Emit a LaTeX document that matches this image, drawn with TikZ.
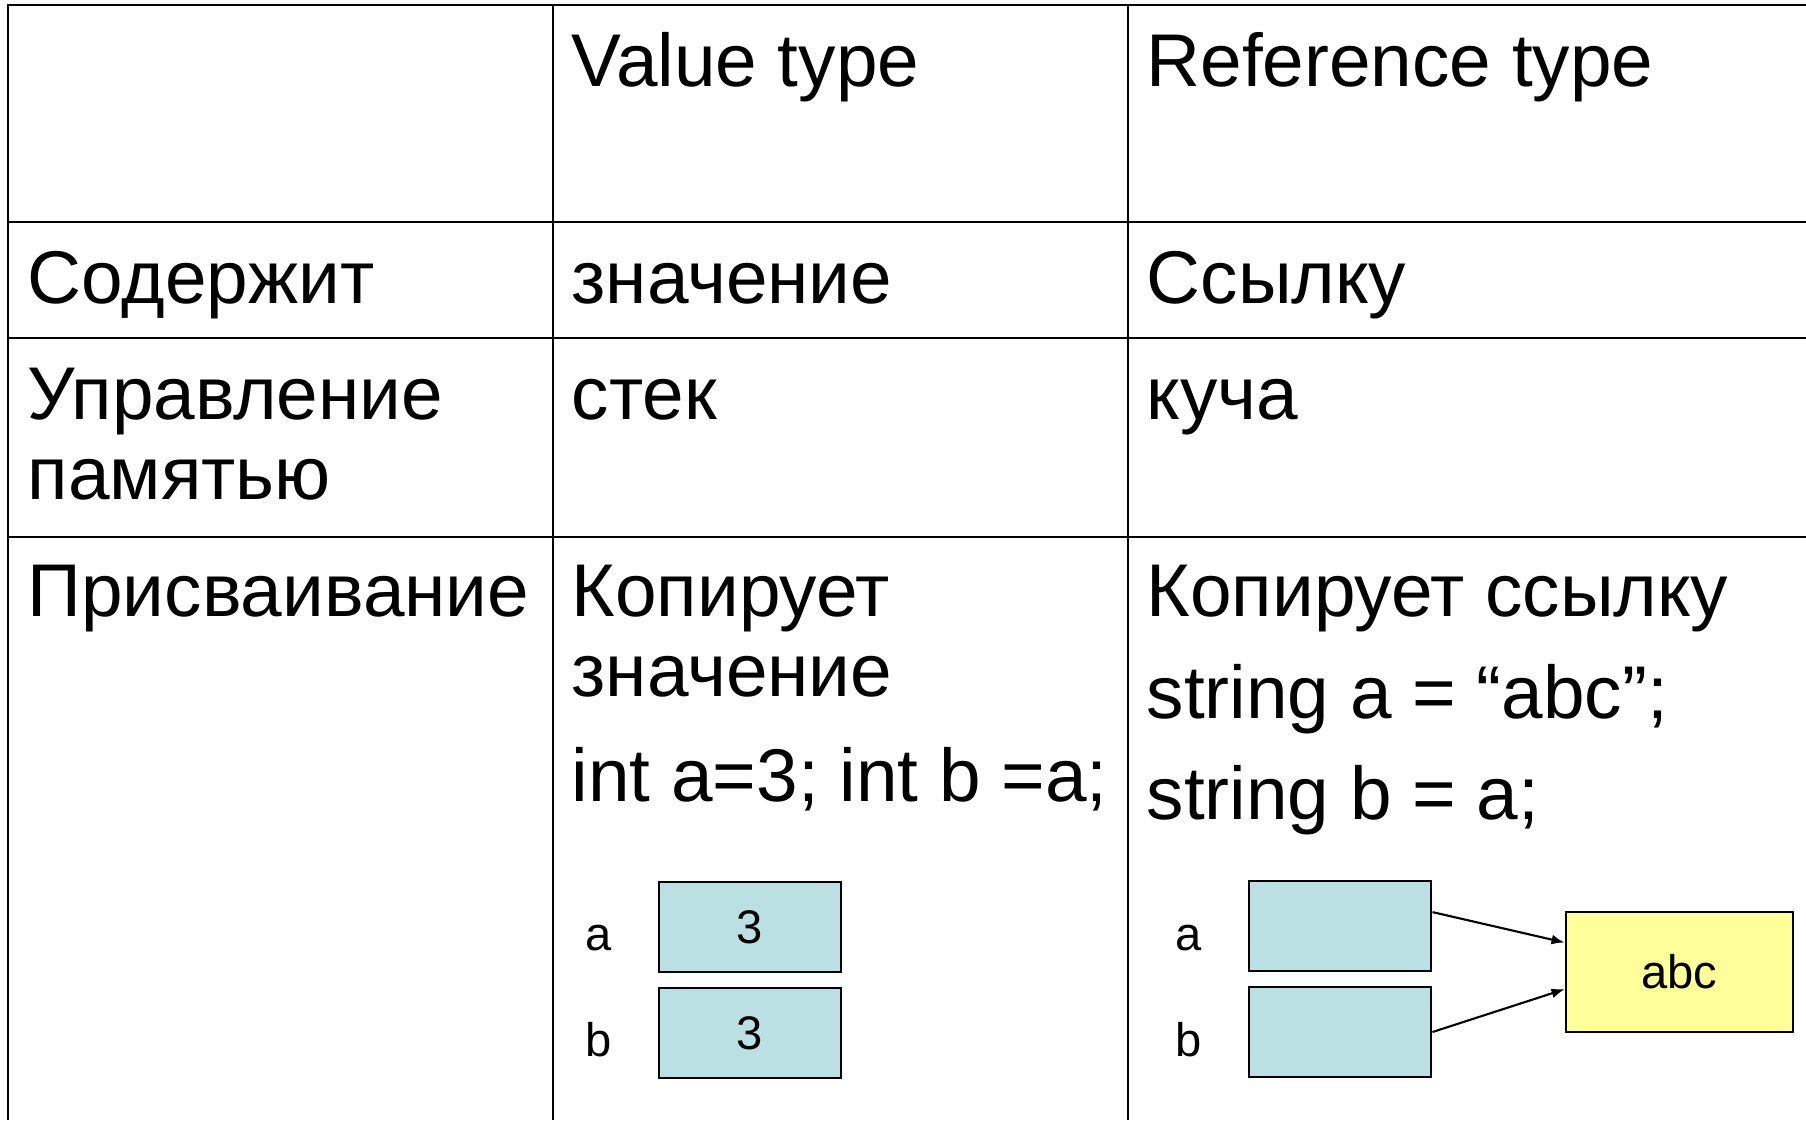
\documentclass[tikz,border=0pt]{standalone}
\usepackage{fontspec}
\setmainfont{Liberation Sans}
\usetikzlibrary{arrows.meta,calc}
\definecolor{slotblue}{RGB}{187,224,227}
\definecolor{heapyellow}{RGB}{255,255,153}
\newcommand\celltext{\fontsize{21.25}{22.5}\selectfont}
\newcommand\slottext{\fontsize{13.4}{15}\selectfont}

\begin{document}
\begin{tikzpicture}[x=0.01cm,y=-0.01cm]
    \tikzstyle{cell}=[anchor=base west,inner sep=0pt,font=\celltext]
    \tikzstyle{var}=[anchor=base,inner sep=0pt,font=\slottext]
    \tikzstyle{slot}=[draw=black,line width=0.8pt,fill=slotblue,minimum width=1.82cm,minimum height=0.9cm,inner sep=0pt,font=\slottext]
    \tikzstyle{heap}=[slot,fill=heapyellow,minimum width=2.27cm,minimum height=1.2cm]
    \tikzstyle{grid}=[line width=0.6pt]
    \tikzstyle{ptr}=[-{Latex[length=1.3mm,width=1mm]},line width=0.6pt]

    \useasboundingbox (0,0) rectangle (1806,1120);

    % Draw the table lines
    \draw[grid] (1806,5) -- (8,5) -- (8,1120);
    \foreach \y in {222,338,537}
        \draw[grid] (8,\y) -- (1806,\y);
    \foreach \x in {553,1128}
        \draw[grid] (\x,5) -- (\x,1120);

    % Header row
    \node[cell] (val-head) at (571,86) {Value type};
    \node[cell] (ref-head) at (1146,86) {Reference type};

    % What a variable holds
    \node[cell] (holds) at (27,303) {Содержит};
    \node[cell] (val-holds) at (571,303) {значение};
    \node[cell] (ref-holds) at (1146,303) {Ссылку};

    % Memory management
    \node[cell] (memory-1) at (27,419) {Управление};
    \node[cell] (memory-2) at (27,499) {памятью};
    \node[cell] (val-memory) at (571,419) {стек};
    \node[cell] (ref-memory) at (1146,419) {куча};

    % Assignment
    \node[cell] (assign) at (27,616) {Присваивание};
    \node[cell] (val-copy-1) at (571,616) {Копирует};
    \node[cell] (val-copy-2) at (571,696) {значение};
    \node[cell] (val-code) at (571,801) {int a=3; int b =a;};
    \node[cell] (ref-copy) at (1146,616) {Копирует ссылку};
    \node[cell] (ref-code-1) at (1146,718) {string a = “abc”;};
    \node[cell] (ref-code-2) at (1146,819) {string b = a;};

    % Value type: two separate copies
    \node[slot] (val-a) at (750,927) {3};
    \node[slot] (val-b) at (750,1033) {3};
    \node[var] (val-a-name) at (599,950) {a};
    \node[var] (val-b-name) at (599,1056) {b};

    % Reference type: two references to one object
    \node[slot] (ref-a) at (1340,926) {};
    \node[slot] (ref-b) at (1340,1032) {};
    \node[var] (ref-a-name) at (1189,950) {a};
    \node[var] (ref-b-name) at (1189,1056) {b};
    \node[heap] (str) at (1679.5,972) {abc};

    \draw[ptr] ($(ref-a.north east)!0.35!(ref-a.south east)$) -- ($(str.north west)!0.26!(str.south west)$);
    \draw[ptr] (ref-b.east) -- ($(str.north west)!0.64!(str.south west)$);
\end{tikzpicture}
\end{document}
